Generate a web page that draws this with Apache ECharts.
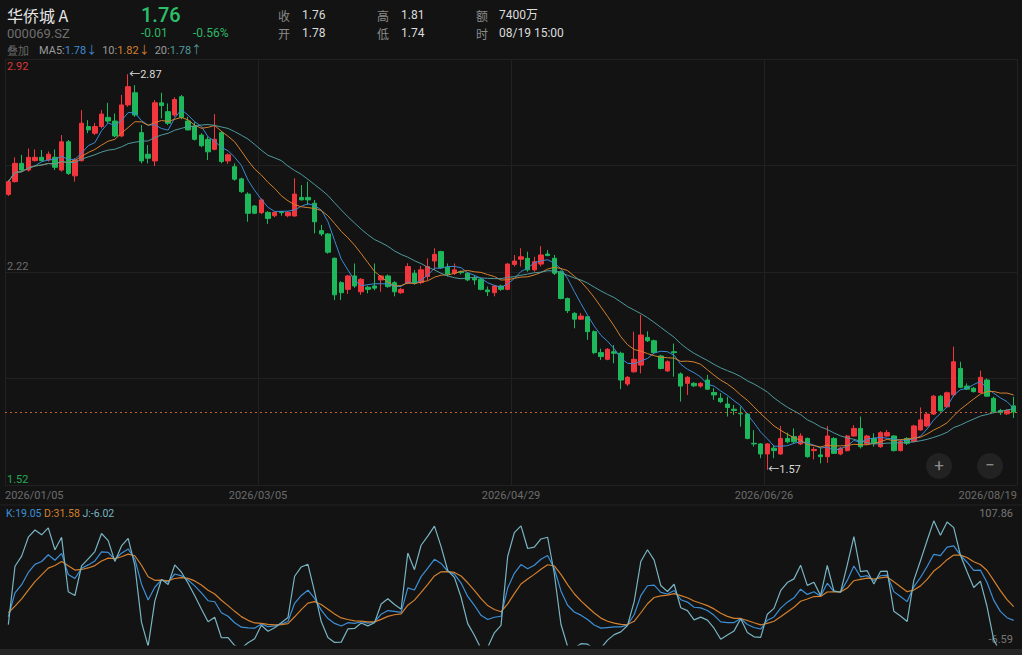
<!DOCTYPE html>
<html><head><meta charset="utf-8">
<script src="https://cdn.jsdelivr.net/npm/echarts@6/dist/echarts.min.js"></script>
<style>html,body{margin:0;padding:0;background:#131313;}#c{width:1022px;height:655px;}</style>
</head><body><div id="c"></div>
<script>
const stockName = '华侨城 A';
const stockCode = '000069.SZ';
const quote = ['1.76', '-0.01', '-0.56%'];
const statLabels = ['收', '开', '高', '低', '额', '时'];
const statValues = ['1.76', '1.78', '1.81', '1.74', '7400万', '08/19 15:00'];
const maLegend = ['1.78↓', '1.82↓', '1.78↑'];
const kdjLegend = ['19.05', '31.58', '-6.02'];
const kdjRange = [-6.59, 107.86];
const kdjStart = [19.1, 22.7];
const priceRange = [1.52, 2.92];
const priceLabelled = [1.52, 2.22, 2.92];
const tickLabels = ['2026/01/05', '2026/03/05', '2026/04/29', '2026/06/26', '2026/08/19'];

const opens = [2.475,2.517,2.577,2.555,2.586,2.597,2.588,2.597,2.555,2.648,
2.536,2.586,2.698,2.676,2.698,2.728,2.716,2.667,2.769,2.809,
2.678,2.607,2.585,2.776,2.747,2.736,2.796,2.716,2.700,2.670,
2.656,2.623,2.678,2.585,2.566,2.526,2.476,2.437,2.415,2.416,
2.405,2.418,2.405,2.404,2.465,2.465,2.446,2.356,2.345,2.265,
2.185,2.163,2.207,2.155,2.170,2.174,2.194,2.207,2.185,2.152,
2.183,2.216,2.185,2.205,2.256,2.287,2.235,2.216,2.221,2.216,
2.199,2.196,2.161,2.152,2.174,2.163,2.245,2.262,2.265,2.227,
2.246,2.279,2.265,2.221,2.133,2.084,2.065,2.073,2.024,1.955,
1.933,1.958,1.953,1.852,1.892,1.914,2.005,1.994,1.944,1.895,
1.958,1.885,1.854,1.854,1.845,1.865,1.824,1.805,1.786,1.769,
1.756,1.753,1.657,1.655,1.622,1.641,1.622,1.673,1.679,1.655,
1.673,1.633,1.619,1.613,1.673,1.622,1.633,1.681,1.706,1.655,
1.673,1.646,1.681,1.681,1.633,1.673,1.663,1.701,1.714,1.753,
1.812,1.777,1.816,1.903,1.845,1.838,1.824,1.865,1.805,1.765,
1.754,1.780];
const closes = [2.517,2.577,2.555,2.597,2.597,2.586,2.607,2.564,2.648,2.544,
2.588,2.709,2.687,2.698,2.739,2.716,2.667,2.769,2.829,2.736,
2.585,2.594,2.776,2.767,2.709,2.787,2.728,2.687,2.656,2.635,
2.615,2.656,2.583,2.605,2.525,2.484,2.413,2.413,2.457,2.396,
2.416,2.415,2.416,2.476,2.457,2.457,2.385,2.345,2.285,2.145,
2.152,2.207,2.174,2.196,2.163,2.167,2.207,2.172,2.155,2.163,
2.238,2.183,2.227,2.238,2.278,2.235,2.213,2.227,2.218,2.194,
2.194,2.163,2.155,2.174,2.163,2.246,2.256,2.270,2.227,2.254,
2.276,2.274,2.216,2.133,2.093,2.065,2.075,2.024,1.955,1.942,
1.966,1.953,1.865,1.874,1.933,2.013,1.994,1.955,1.903,1.925,
1.955,1.845,1.874,1.846,1.854,1.835,1.816,1.794,1.775,1.765,
1.754,1.673,1.655,1.622,1.655,1.633,1.673,1.662,1.662,1.681,
1.613,1.637,1.613,1.681,1.624,1.641,1.681,1.706,1.646,1.681,
1.657,1.692,1.692,1.633,1.663,1.657,1.714,1.734,1.753,1.812,
1.764,1.823,1.925,1.841,1.835,1.827,1.874,1.812,1.761,1.758,
1.765,1.760];
const lows = [2.470,2.514,2.550,2.550,2.583,2.583,2.583,2.555,2.550,2.539,
2.517,2.583,2.676,2.670,2.692,2.709,2.663,2.663,2.763,2.730,
2.577,2.577,2.568,2.725,2.703,2.730,2.722,2.685,2.652,2.630,
2.588,2.620,2.577,2.575,2.520,2.480,2.385,2.410,2.410,2.378,
2.400,2.405,2.400,2.402,2.455,2.440,2.347,2.338,2.280,2.128,
2.128,2.148,2.168,2.145,2.150,2.160,2.155,2.168,2.140,2.148,
2.180,2.178,2.180,2.194,2.227,2.232,2.205,2.210,2.212,2.190,
2.178,2.160,2.141,2.140,2.158,2.160,2.238,2.238,2.221,2.221,
2.238,2.272,2.210,2.130,2.085,2.035,2.062,1.997,1.950,1.931,
1.930,1.920,1.835,1.845,1.889,1.887,1.990,1.950,1.900,1.892,
1.876,1.794,1.816,1.842,1.840,1.832,1.800,1.789,1.745,1.750,
1.712,1.670,1.646,1.608,1.570,1.608,1.619,1.657,1.657,1.651,
1.610,1.604,1.591,1.593,1.622,1.618,1.630,1.679,1.640,1.652,
1.646,1.642,1.679,1.630,1.630,1.652,1.660,1.698,1.710,1.750,
1.761,1.774,1.810,1.838,1.832,1.824,1.821,1.810,1.756,1.750,
1.750,1.740];
const highs = [2.522,2.597,2.605,2.626,2.623,2.621,2.616,2.623,2.670,2.654,
2.594,2.752,2.719,2.710,2.752,2.776,2.741,2.802,2.870,2.834,
2.703,2.637,2.785,2.809,2.774,2.794,2.802,2.730,2.712,2.676,
2.665,2.739,2.684,2.610,2.577,2.530,2.482,2.440,2.462,2.420,
2.420,2.421,2.420,2.528,2.506,2.517,2.457,2.375,2.348,2.268,
2.190,2.210,2.248,2.200,2.175,2.248,2.210,2.212,2.190,2.168,
2.249,2.227,2.240,2.265,2.298,2.290,2.248,2.248,2.225,2.220,
2.210,2.200,2.172,2.178,2.178,2.250,2.276,2.298,2.287,2.270,
2.305,2.292,2.276,2.225,2.136,2.088,2.085,2.076,2.028,1.968,
1.970,1.980,1.958,1.878,2.024,2.079,2.025,1.998,1.948,1.930,
1.985,1.890,1.878,1.858,1.858,1.882,1.838,1.822,1.810,1.783,
1.778,1.756,1.700,1.658,1.658,1.652,1.714,1.692,1.706,1.690,
1.676,1.645,1.645,1.714,1.677,1.645,1.685,1.717,1.745,1.685,
1.690,1.697,1.701,1.684,1.668,1.677,1.718,1.775,1.758,1.816,
1.816,1.827,1.975,1.925,1.854,1.842,1.896,1.870,1.810,1.770,
1.768,1.810];

const UP = '#f2363d', DOWN = '#1db85b';
const C_MA5 = '#3b8bd4', C_MA10 = '#d3802e', C_MA20 = '#4f9a9e';
const C_K = '#3d8fd6', C_D = '#d3802e', C_J = '#78b4c2';
const FONT = 'Roboto, "Noto Sans CJK SC", sans-serif';

const N = closes.length;
const idx = closes.map((_, i) => i);
const candles = closes.map((c, i) => [opens[i], c, lows[i], highs[i]]);

function ma(n) {
  return closes.map((_, i) => {
    const s = Math.max(0, i - n + 1);
    let sum = 0;
    for (let j = s; j <= i; j++) sum += closes[j];
    return +(sum / (i - s + 1)).toFixed(4);
  });
}
const ma5 = ma(5), ma10 = ma(10), ma20 = ma(20);

const K = [], D = [], J = [];
for (let i = 0; i < N; i++) {
  if (i === 0) { K.push(kdjStart[0]); D.push(kdjStart[1]); J.push(3 * kdjStart[0] - 2 * kdjStart[1]); continue; }
  const s = Math.max(0, i - 8);
  let hh = -Infinity, ll = Infinity;
  for (let j = s; j <= i; j++) { hh = Math.max(hh, highs[j]); ll = Math.min(ll, lows[j]); }
  const rsv = hh === ll ? 50 : (closes[i] - ll) / (hh - ll) * 100;
  const k = (2 * K[i - 1] + rsv) / 3;
  const d = (2 * D[i - 1] + k) / 3;
  K.push(+k.toFixed(2)); D.push(+d.toFixed(2)); J.push(+(3 * k - 2 * d).toFixed(2));
}

let hiIdx = 0, loIdx = 0;
highs.forEach((h, i) => { if (h > highs[hiIdx]) hiIdx = i; });
lows.forEach((l, i) => { if (l < lows[loIdx]) loIdx = i; });
const lastClose = closes[N - 1];
const step = N / 4;
const pInterval = +((priceRange[1] - priceRange[0]) / 4).toFixed(4);

function txt(text, x, y, fill, size, extra) {
  return Object.assign({ type: 'text', silent: true, style: Object.assign({ text: text, x: x, y: y, fill: fill, fontSize: size, fontFamily: FONT, verticalAlign: 'middle', align: 'left' }, extra || {}) });
}
const CJK = { fontFamily: '"Noto Sans CJK SC", sans-serif' };

const graphics = [
  txt(stockName, 7, 15, '#e6e6e6', 16, CJK),
  txt(stockCode, 7, 33, '#6f6f6f', 13),
  txt('叠加', 7, 50, '#666666', 11, CJK),
  {
    type: 'text', silent: true,
    style: {
      x: 39, y: 50, verticalAlign: 'middle', fontFamily: FONT, fontSize: 11,
      text: '{g|MA5:}{b|' + maLegend[0] + '}{g|10:}{o|' + maLegend[1] + '}{g|20:}{t|' + maLegend[2] + '}',
      rich: {
        g: { fill: '#9a9a9a', fontSize: 11, fontFamily: FONT },
        b: { fill: C_MA5, fontSize: 11, fontFamily: FONT, padding: [0, 5, 0, 0] },
        o: { fill: C_MA10, fontSize: 11, fontFamily: FONT, padding: [0, 5, 0, 0] },
        t: { fill: C_MA20, fontSize: 11, fontFamily: FONT }
      }
    }
  },
  txt(quote[0], 141, 15, '#2cc06a', 20, { fontWeight: 500 }),
  txt(quote[1], 141, 33, '#2cb866', 12),
  txt(quote[2], 193, 33, '#2cb866', 12),
  txt(statLabels[0], 278, 15, '#8a8a8a', 12, CJK),
  txt(statValues[0], 302, 15, '#dcdcdc', 12),
  txt(statLabels[1], 278, 33, '#8a8a8a', 12, CJK),
  txt(statValues[1], 302, 33, '#dcdcdc', 12),
  txt(statLabels[2], 377, 15, '#8a8a8a', 12, CJK),
  txt(statValues[2], 401, 15, '#dcdcdc', 12),
  txt(statLabels[3], 377, 33, '#8a8a8a', 12, CJK),
  txt(statValues[3], 401, 33, '#dcdcdc', 12),
  txt(statLabels[4], 476, 15, '#8a8a8a', 12, CJK),
  txt(statValues[4], 499, 15, '#dcdcdc', 12),
  txt(statLabels[5], 476, 33, '#8a8a8a', 12, CJK),
  txt(statValues[5], 499, 33, '#dcdcdc', 12),
  {
    type: 'text', silent: true,
    style: {
      x: 6, y: 513, verticalAlign: 'middle', fontFamily: FONT, fontSize: 10.5,
      text: '{k|K:' + kdjLegend[0] + '} {d|D:' + kdjLegend[1] + '} {j|J:' + kdjLegend[2] + '}',
      rich: {
        k: { fill: C_K, fontSize: 10.5, fontFamily: FONT },
        d: { fill: C_D, fontSize: 10.5, fontFamily: FONT },
        j: { fill: C_J, fontSize: 10.5, fontFamily: FONT }
      }
    }
  },
  { type: 'line', silent: true, shape: { x1: 0, y1: 505, x2: 1022, y2: 505 }, style: { stroke: '#222222', lineWidth: 1 } },
  { type: 'rect', silent: true, shape: { x: 0, y: 649, width: 1022, height: 6 }, style: { fill: '#262626' } },
  { type: 'circle', silent: true, shape: { cx: 939, cy: 466, r: 13 }, style: { fill: '#222222' } },
  { type: 'circle', silent: true, shape: { cx: 990, cy: 466, r: 13 }, style: { fill: '#222222' } },
  txt('+', 939, 465, '#8c8c8c', 17, { align: 'center' }),
  txt('−', 990, 465, '#8c8c8c', 17, { align: 'center' })
];

const chart = echarts.init(document.getElementById('c'), null, { renderer: 'svg' });
chart.setOption({
  backgroundColor: '#131313',
  animation: false,
  graphic: graphics,
  grid: [
    { left: 5, right: 5, top: 59, height: 426 },
    { left: 5, right: 5, top: 519, height: 126 }
  ],
  xAxis: [
    { type: 'category', gridIndex: 0, data: idx, boundaryGap: true, show: false },
    {
      type: 'value', gridIndex: 0, min: 0, max: N, interval: step, position: 'bottom',
      axisLine: { show: false }, axisTick: { show: false },
      splitLine: { show: true, lineStyle: { color: '#212121', width: 1 } },
      axisLabel: {
        color: '#6c6c6c', fontSize: 11, fontFamily: FONT, margin: 5,
        alignMinLabel: 'left', alignMaxLabel: 'right',
        formatter: v => tickLabels[Math.round(v / step)] || ''
      }
    },
    { type: 'category', gridIndex: 1, data: idx, boundaryGap: true, show: false }
  ],
  yAxis: [
    {
      type: 'value', gridIndex: 0, position: 'left', offset: 0, min: priceRange[0], max: priceRange[1], interval: pInterval,
      axisLine: { show: false }, axisTick: { show: false },
      splitLine: { show: true, lineStyle: { color: '#212121', width: 1 } },
      axisLabel: {
        inside: true, margin: 2, verticalAlign: 'bottom', fontSize: 11, fontFamily: FONT,
        formatter: v => {
          if (Math.abs(v - priceLabelled[0]) < 1e-6) return '{g|' + priceLabelled[0].toFixed(2) + '}';
          if (Math.abs(v - priceLabelled[1]) < 1e-6) return '{m|' + priceLabelled[1].toFixed(2) + '}';
          return '';
        },
        rich: { g: { color: '#25a955', fontSize: 11, fontFamily: FONT }, m: { color: '#6c6c6c', fontSize: 11, fontFamily: FONT } }
      }
    },
    {
      type: 'value', gridIndex: 0, position: 'left', offset: 0, min: priceRange[0], max: priceRange[1], interval: pInterval,
      axisLine: { show: false }, axisTick: { show: false }, splitLine: { show: false },
      axisLabel: {
        inside: true, margin: 2, verticalAlign: 'top', fontSize: 11, fontFamily: FONT,
        padding: [2, 0, 0, 0],
        formatter: v => Math.abs(v - priceLabelled[2]) < 1e-6 ? '{r|' + priceLabelled[2].toFixed(2) + '}' : '',
        rich: { r: { color: '#d8393a', fontSize: 11, fontFamily: FONT } }
      }
    },
    {
      type: 'value', gridIndex: 1, min: kdjRange[0], max: kdjRange[1], interval: +(kdjRange[1] - kdjRange[0]).toFixed(2),
      position: 'right', axisLine: { show: false }, axisTick: { show: false }, splitLine: { show: false },
      axisLabel: { inside: true, margin: 4, verticalAlign: 'bottom', color: '#777777', fontSize: 11, fontFamily: FONT, formatter: v => v.toFixed(2) }
    }
  ],
  series: [
    {
      type: 'candlestick', xAxisIndex: 0, yAxisIndex: 0, data: candles, barWidth: '74%',
      itemStyle: { color: UP, color0: DOWN, borderColor: UP, borderColor0: DOWN, borderWidth: 1 },
      markLine: {
        silent: true, symbol: 'none', label: { show: false },
        lineStyle: { color: '#c0602d', type: [2, 3], width: 1 },
        data: [{ yAxis: lastClose }]
      },
      markPoint: {
        silent: true, symbol: 'circle', symbolSize: 0,
        label: { show: true, position: 'right', distance: 1, color: '#dadada', fontSize: 11, fontFamily: FONT, formatter: p => '←' + p.value.toFixed(2) },
        data: [
          { coord: [hiIdx, highs[hiIdx]], value: highs[hiIdx] },
          { coord: [loIdx, lows[loIdx]], value: lows[loIdx] }
        ]
      }
    },
    { type: 'line', xAxisIndex: 0, yAxisIndex: 0, data: ma5, showSymbol: false, lineStyle: { color: C_MA5, width: 1 } },
    { type: 'line', xAxisIndex: 0, yAxisIndex: 0, data: ma10, showSymbol: false, lineStyle: { color: C_MA10, width: 1 } },
    { type: 'line', xAxisIndex: 0, yAxisIndex: 0, data: ma20, showSymbol: false, lineStyle: { color: C_MA20, width: 1 } },
    { type: 'line', xAxisIndex: 2, yAxisIndex: 2, data: K, showSymbol: false, lineStyle: { color: C_K, width: 1.2 } },
    { type: 'line', xAxisIndex: 2, yAxisIndex: 2, data: D, showSymbol: false, lineStyle: { color: C_D, width: 1.2 } },
    { type: 'line', xAxisIndex: 2, yAxisIndex: 2, data: J, showSymbol: false, lineStyle: { color: C_J, width: 1.2 } }
  ]
});
</script></body></html>
